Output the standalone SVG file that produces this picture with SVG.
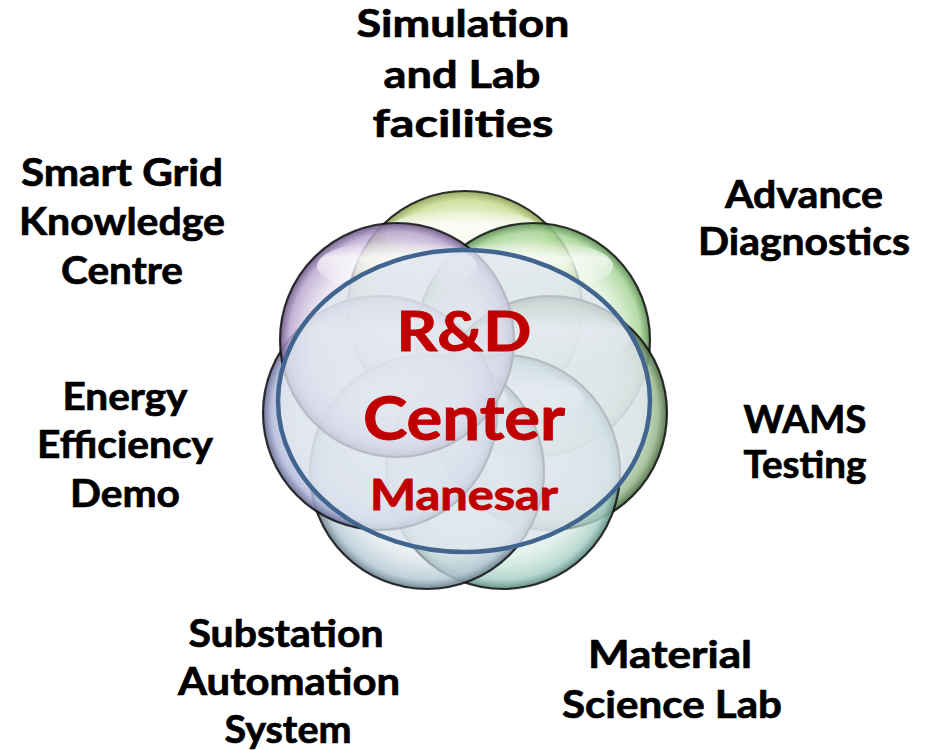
<svg xmlns="http://www.w3.org/2000/svg" width="927" height="750" viewBox="0 0 927 750">
<style>
.lbl{font-family:Lato,"Open Sans","Liberation Sans",sans-serif;font-weight:bold;font-size:38px;fill:#000;stroke:#000;stroke-width:0.7;text-anchor:middle}
.red{font-family:Lato,"Open Sans","Liberation Sans",sans-serif;font-weight:bold;fill:#c00000;stroke:#c00000;stroke-width:0.9;text-anchor:middle}
.bub{stroke:#111;stroke-width:2.2;stroke-opacity:0.85}
.hl{fill:url(#hl)}
</style>
<defs>
<radialGradient id="gTop"><stop offset="0" stop-color="#fbfdf2" stop-opacity="0.5"/><stop offset="0.72" stop-color="#e6f0c8" stop-opacity="0.6"/><stop offset="0.92" stop-color="#c9dc92" stop-opacity="0.85"/><stop offset="1" stop-color="#8ea258" stop-opacity="0.95"/></radialGradient>
<radialGradient id="gUR"><stop offset="0" stop-color="#f2faf0" stop-opacity="0.5"/><stop offset="0.72" stop-color="#d2ebca" stop-opacity="0.6"/><stop offset="0.92" stop-color="#a6d496" stop-opacity="0.85"/><stop offset="1" stop-color="#5f8f55" stop-opacity="0.95"/></radialGradient>
<radialGradient id="gR"><stop offset="0" stop-color="#eef6ec" stop-opacity="0.5"/><stop offset="0.72" stop-color="#c6dcc0" stop-opacity="0.6"/><stop offset="0.92" stop-color="#96b88c" stop-opacity="0.85"/><stop offset="1" stop-color="#4f6e48" stop-opacity="0.95"/></radialGradient>
<radialGradient id="gBR"><stop offset="0" stop-color="#f0f8f6" stop-opacity="0.5"/><stop offset="0.72" stop-color="#d2e8e2" stop-opacity="0.6"/><stop offset="0.92" stop-color="#a8d0c6" stop-opacity="0.85"/><stop offset="1" stop-color="#5e8a80" stop-opacity="0.95"/></radialGradient>
<radialGradient id="gBL"><stop offset="0" stop-color="#f2f6f8" stop-opacity="0.5"/><stop offset="0.72" stop-color="#d8e2e8" stop-opacity="0.6"/><stop offset="0.92" stop-color="#b4c8d4" stop-opacity="0.85"/><stop offset="1" stop-color="#6a808e" stop-opacity="0.95"/></radialGradient>
<radialGradient id="gL"><stop offset="0" stop-color="#f4f4fa" stop-opacity="0.5"/><stop offset="0.72" stop-color="#d8dcee" stop-opacity="0.6"/><stop offset="0.92" stop-color="#b2b8da" stop-opacity="0.85"/><stop offset="1" stop-color="#676e96" stop-opacity="0.95"/></radialGradient>
<radialGradient id="gUL"><stop offset="0" stop-color="#f8f4fa" stop-opacity="0.5"/><stop offset="0.72" stop-color="#e2d8ec" stop-opacity="0.6"/><stop offset="0.92" stop-color="#b9a6cf" stop-opacity="0.85"/><stop offset="1" stop-color="#6e5a88" stop-opacity="0.95"/></radialGradient>
<linearGradient id="hl" x1="0" y1="0" x2="0" y2="1"><stop offset="0" stop-color="#fff" stop-opacity="0"/><stop offset="0.35" stop-color="#fff" stop-opacity="0.75"/><stop offset="1" stop-color="#fff" stop-opacity="0"/></linearGradient>
</defs>
<rect width="927" height="750" fill="#fff"/>

<g id="bubbles">
<g id="bubble-top"><circle class="bub" cx="465" cy="308" r="117" fill="url(#gTop)"/><ellipse class="hl" cx="465" cy="234" rx="80" ry="26"/></g>
<g id="bubble-ur"><circle class="bub" cx="533" cy="340" r="117" fill="url(#gUR)"/><ellipse class="hl" cx="533" cy="266" rx="80" ry="26"/></g>
<g id="bubble-r"><circle class="bub" cx="550" cy="413" r="117" fill="url(#gR)"/><ellipse class="hl" cx="550" cy="339" rx="80" ry="26"/></g>
<g id="bubble-br"><circle class="bub" cx="503" cy="472" r="117" fill="url(#gBR)"/><ellipse class="hl" cx="503" cy="398" rx="80" ry="26"/></g>
<g id="bubble-bl"><circle class="bub" cx="427" cy="472" r="117" fill="url(#gBL)"/><ellipse class="hl" cx="427" cy="398" rx="80" ry="26"/></g>
<g id="bubble-l"><circle class="bub" cx="380" cy="413" r="117" fill="url(#gL)"/><ellipse class="hl" cx="380" cy="339" rx="80" ry="26"/></g>
<g id="bubble-ul"><circle class="bub" cx="397" cy="340" r="117" fill="url(#gUL)"/><ellipse class="hl" cx="397" cy="266" rx="80" ry="26"/></g>
</g>

<g id="center">
<ellipse cx="464" cy="401" rx="186" ry="151" fill="#dfe6ee" fill-opacity="0.78" stroke="#41658f" stroke-width="4.5"/>
<text class="red" x="464" y="351" font-size="56" textLength="135" lengthAdjust="spacingAndGlyphs">R&amp;D</text>
<text class="red" x="464" y="440" font-size="61" textLength="202" lengthAdjust="spacingAndGlyphs">Center</text>
<text class="red" x="464" y="510" font-size="42" textLength="188" lengthAdjust="spacingAndGlyphs">Manesar</text>
</g>

<g id="label-simulation">
<text class="lbl" x="463" y="37" textLength="213" lengthAdjust="spacingAndGlyphs">Simulation</text>
<text class="lbl" x="462" y="88" textLength="157" lengthAdjust="spacingAndGlyphs">and Lab</text>
<text class="lbl" x="463" y="137" textLength="181" lengthAdjust="spacingAndGlyphs">facilities</text>
</g>
<g id="label-smartgrid">
<text class="lbl" x="122" y="186" textLength="202" lengthAdjust="spacingAndGlyphs">Smart Grid</text>
<text class="lbl" x="122" y="235" textLength="206" lengthAdjust="spacingAndGlyphs">Knowledge</text>
<text class="lbl" x="122" y="284" textLength="122" lengthAdjust="spacingAndGlyphs">Centre</text>
</g>
<g id="label-energy">
<text class="lbl" x="125" y="410" textLength="125" lengthAdjust="spacingAndGlyphs">Energy</text>
<text class="lbl" x="125" y="458" textLength="176" lengthAdjust="spacingAndGlyphs">Efficiency</text>
<text class="lbl" x="125" y="507" textLength="110" lengthAdjust="spacingAndGlyphs">Demo</text>
</g>
<g id="label-advance">
<text class="lbl" x="804" y="208" textLength="158" lengthAdjust="spacingAndGlyphs">Advance</text>
<text class="lbl" x="804" y="255" textLength="212" lengthAdjust="spacingAndGlyphs">Diagnostics</text>
</g>
<g id="label-wams">
<text class="lbl" x="805" y="433" textLength="123" lengthAdjust="spacingAndGlyphs">WAMS</text>
<text class="lbl" x="805" y="478" textLength="123" lengthAdjust="spacingAndGlyphs">Testing</text>
</g>
<g id="label-substation">
<text class="lbl" x="286" y="647" textLength="195" lengthAdjust="spacingAndGlyphs">Substation</text>
<text class="lbl" x="289" y="695" textLength="222" lengthAdjust="spacingAndGlyphs">Automation</text>
<text class="lbl" x="288" y="743" textLength="127" lengthAdjust="spacingAndGlyphs">System</text>
</g>
<g id="label-material">
<text class="lbl" x="670" y="668" textLength="164" lengthAdjust="spacingAndGlyphs">Material</text>
<text class="lbl" x="672" y="718" textLength="220" lengthAdjust="spacingAndGlyphs">Science Lab</text>
</g>
</svg>
